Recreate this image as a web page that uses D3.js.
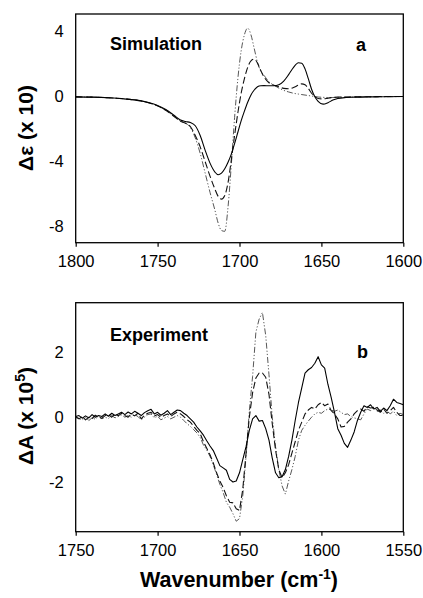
<!DOCTYPE html>
<html>
<head>
<meta charset="utf-8">
<script src="https://cdn.jsdelivr.net/npm/d3@7"></script>
<style>
  html, body { margin: 0; padding: 0; background: #fff; }
  svg { display: block; }
  text { font-family: "Liberation Sans", Arial, sans-serif; fill: #000; }
</style>
</head>
<body>
<svg id="chart" width="423" height="598"></svg>
<script>
// ---------- Panel a: simulation ----------
const simWavenumber = [1800,1790,1780,1770,1760,1755,1750,1745,1740,1736,1733,1730,1727,1724,1721,1718,1715,1713,1711,1709,1707,1705,1703,1701,1699,1697,1695,1693,1691,1689,1687,1685,1682,1679,1676,1673,1670,1667,1664,1662,1660,1658,1656,1654,1652,1649,1646,1643,1640,1635,1630,1620,1610,1600];
const simSolid = [-0.02,-0.04,-0.08,-0.15,-0.27,-0.38,-0.55,-0.8,-1.15,-1.45,-1.54,-1.6,-1.8,-2.4,-3.3,-4.1,-4.65,-4.82,-4.72,-4.45,-4.05,-3.55,-2.9,-2.2,-1.5,-0.9,-0.35,0.1,0.4,0.6,0.66,0.67,0.66,0.66,0.72,0.95,1.35,1.8,2.08,2.05,1.7,1.1,0.45,-0.02,-0.3,-0.47,-0.38,-0.22,-0.12,-0.06,-0.04,-0.02,-0.01,0];
const simDashed = [-0.02,-0.04,-0.08,-0.15,-0.28,-0.4,-0.58,-0.85,-1.22,-1.52,-1.64,-1.85,-2.4,-3.1,-4.0,-4.9,-5.7,-6.15,-6.32,-6.1,-5.3,-3.9,-2.4,-1.0,0.2,1.1,1.8,2.2,2.3,2.05,1.6,1.2,0.85,0.7,0.6,0.5,0.48,0.55,0.7,0.78,0.72,0.5,0.2,0.0,-0.12,-0.15,-0.1,-0.06,-0.04,-0.03,-0.02,-0.01,0,0];
const simDashDot = [-0.02,-0.04,-0.08,-0.15,-0.28,-0.4,-0.58,-0.85,-1.22,-1.52,-1.64,-1.9,-2.55,-3.5,-4.7,-5.9,-7.0,-7.8,-8.25,-8.3,-6.8,-4.2,-1.3,1.1,2.8,3.8,4.21,3.8,2.95,2.1,1.55,1.3,0.9,0.7,0.52,0.38,0.28,0.2,0.15,0.12,0.09,0.06,0.03,0.0,-0.03,-0.05,-0.06,-0.06,-0.05,-0.04,-0.03,-0.02,-0.01,0];
const simXTicks = [1800,1750,1700,1650,1600];
const simYTicks = [-8,-4,0,4];

// ---------- Panel b: experiment ----------
const expWavenumber = [1750,1748,1746,1744,1742,1740,1738,1736,1734,1732,1730,1728,1726,1724,1722,1720,1718,1716,1714,1712,1710,1708,1706,1704,1702,1700,1698,1696,1694,1692,1690,1688,1686,1684,1682,1680,1678,1676,1674,1672,1670,1668,1666,1664,1662,1660,1658,1656,1654,1652,1650,1648,1646,1644,1642,1640,1638,1636,1634,1632,1630,1628,1626,1624,1622,1620,1618,1616,1614,1612,1610,1608,1606,1604,1602,1600,1598,1596,1594,1592,1590,1588,1586,1584,1582,1580,1578,1576,1574,1572,1570,1568,1566,1564,1562,1560,1558,1556,1554,1552,1550];
const expSolid = [0.02,0.05,-0.03,0.04,-0.02,0.08,0.0,0.05,0.02,0.1,0.03,0.12,0.05,0.1,0.15,0.08,0.16,0.1,0.18,0.12,0.05,0.14,0.2,0.24,0.1,0.15,0.06,0.12,0.2,0.08,0.15,0.22,0.2,0.12,0.05,-0.05,-0.15,-0.3,-0.42,-0.55,-0.72,-0.88,-1.02,-1.25,-1.48,-1.55,-1.62,-1.9,-1.98,-1.95,-1.7,-1.3,-0.9,-0.4,-0.05,0.05,-0.12,-0.1,-0.35,-0.7,-1.25,-1.7,-1.85,-1.82,-1.6,-1.2,-0.7,-0.1,0.45,0.9,1.35,1.45,1.52,1.65,1.85,1.6,1.5,1.0,0.6,0.15,-0.35,-0.55,-0.8,-0.92,-0.7,-0.45,-0.1,0.15,0.35,0.3,0.38,0.25,0.3,0.18,0.28,0.2,0.35,0.55,0.45,0.42,0.38];
const expDashed = [0.0,-0.05,0.02,-0.08,0.0,-0.04,0.06,0.0,-0.03,0.05,0.08,0.0,0.1,0.04,0.12,0.05,0.0,0.1,0.04,0.12,-0.05,0.06,0.12,0.15,0.04,0.08,0.0,0.05,0.1,0.02,0.1,0.15,0.1,0.02,-0.08,-0.15,-0.28,-0.4,-0.5,-0.75,-0.95,-1.15,-1.4,-1.7,-1.95,-2.15,-2.4,-2.6,-2.62,-2.8,-2.85,-2.2,-1.1,0.0,0.75,1.2,1.35,1.35,1.22,0.7,-0.2,-1.0,-1.6,-1.85,-1.7,-1.45,-1.1,-0.75,-0.4,-0.15,0.1,0.22,0.3,0.25,0.38,0.45,0.35,0.4,0.2,0.1,-0.05,-0.3,-0.28,-0.15,-0.05,0.1,0.2,0.25,0.18,0.32,0.28,0.3,0.22,0.15,0.25,0.12,0.2,0.3,0.15,0.05,0.05];
const expDashDot = [0.03,-0.04,-0.08,0.0,-0.1,-0.02,-0.06,0.03,-0.05,0.0,-0.04,0.05,-0.02,0.02,0.07,0.0,0.05,0.0,0.08,0.02,-0.08,0.0,0.08,0.1,-0.02,0.03,-0.08,-0.03,0.02,-0.05,0.0,0.05,0.0,-0.1,-0.2,-0.28,-0.38,-0.48,-0.62,-0.85,-1.0,-1.2,-1.45,-1.75,-2.05,-2.3,-2.6,-2.75,-2.95,-3.18,-3.1,-2.4,-1.2,0.2,1.25,2.6,3.0,3.2,2.5,1.3,0.0,-0.9,-1.6,-2.1,-2.35,-1.95,-1.6,-1.2,-0.7,-0.4,-0.25,-0.12,0.0,0.1,0.15,0.12,0.2,0.25,0.22,0.18,0.22,0.15,0.08,0.1,0.02,-0.02,-0.05,-0.08,0.1,0.25,0.2,0.3,0.18,0.22,0.12,0.2,0.1,0.18,0.05,0.12,0.08];
const expXTicks = [1750,1700,1650,1600,1550];
const expYTicks = [-2,0,2];

const svg = d3.select("#chart");

const styles = {
  solid:   { stroke: "#000", width: 1.1, dash: null },
  dashed:  { stroke: "#111", width: 1.1, dash: "7,3" },
  dashdot: { stroke: "#444", width: 0.9, dash: "6,2,1.2,2,1.2,2" }
};

function panel(opts) {
  const { left, right, top, bottom, xDomain, yDomain, xTicks, yTicks, wn, series, curve } = opts;
  const x = d3.scaleLinear().domain(xDomain).range([left, right]);
  const y = d3.scaleLinear().domain(yDomain).range([bottom, top]);
  const g = svg.append("g");

  const line = d3.line()
    .x((d, i) => x(wn[i]))
    .y(d => y(d))
    .curve(curve);

  const clipId = "clip" + Math.round(top);
  svg.append("clipPath").attr("id", clipId)
    .append("rect").attr("x", left).attr("y", top).attr("width", right - left).attr("height", bottom - top);

  const plot = g.append("g").attr("clip-path", `url(#${clipId})`);
  series.forEach(s => {
    const st = styles[s.style];
    plot.append("path")
      .datum(s.values)
      .attr("d", line)
      .attr("fill", "none")
      .attr("stroke", st.stroke)
      .attr("stroke-width", st.width)
      .attr("stroke-dasharray", st.dash)
      .attr("stroke-linejoin", "round");
  });

  g.append("rect")
    .attr("x", left).attr("y", top)
    .attr("width", right - left).attr("height", bottom - top)
    .attr("fill", "none").attr("stroke", "#000").attr("stroke-width", 1.3);

  const xAxis = d3.axisBottom(x).tickValues(xTicks).tickSize(4).tickPadding(9).tickFormat(d3.format("d"));
  const xa = g.append("g").attr("transform", `translate(0,${bottom})`).call(xAxis);
  xa.select(".domain").remove();
  xa.selectAll(".tick line").attr("stroke", "#000").attr("stroke-width", 1.2);
  xa.selectAll(".tick text")
    .attr("font-size", "16.5px")
    .attr("font-family", "Liberation Sans, Arial, sans-serif")
    .attr("fill", "#000");

  const yAxis = d3.axisLeft(y).tickValues(yTicks).tickSize(0).tickPadding(12)
    .tickFormat(d => (d < 0 ? "-" + Math.abs(d) : String(d)));
  const ya = g.append("g").attr("transform", `translate(${left},0)`).call(yAxis);
  ya.select(".domain").remove();
  ya.selectAll(".tick text")
    .attr("font-size", "16.5px")
    .attr("font-family", "Liberation Sans, Arial, sans-serif")
    .attr("fill", "#000");
  return { x, y, g };
}

panel({
  left: 75.7, right: 403.3, top: 14, bottom: 242.7,
  xDomain: [1800, 1600], yDomain: [-9, 5.08],
  xTicks: simXTicks, yTicks: simYTicks, wn: simWavenumber,
  curve: d3.curveMonotoneX,
  series: [
    { style: "dashdot", values: simDashDot },
    { style: "dashed", values: simDashed },
    { style: "solid", values: simSolid }
  ]
});

panel({
  left: 75.7, right: 403.3, top: 302.7, bottom: 531.7,
  xDomain: [1750, 1550], yDomain: [-3.5, 3.5],
  xTicks: expXTicks, yTicks: expYTicks, wn: expWavenumber,
  curve: d3.curveLinear,
  series: [
    { style: "dashdot", values: expDashDot },
    { style: "dashed", values: expDashed },
    { style: "solid", values: expSolid }
  ]
});

svg.append("text").attr("x", 110).attr("y", 50).attr("font-size", "18px").attr("font-weight", "bold").text("Simulation");
svg.append("text").attr("x", 356).attr("y", 51).attr("font-size", "18px").attr("font-weight", "bold").text("a");
svg.append("text").attr("x", 110).attr("y", 341).attr("font-size", "18px").attr("font-weight", "bold").text("Experiment");
svg.append("text").attr("x", 357).attr("y", 358).attr("font-size", "18px").attr("font-weight", "bold").text("b");

svg.append("text")
  .attr("transform", "translate(33,128) rotate(-90)")
  .attr("text-anchor", "middle")
  .attr("font-size", "21px").attr("font-weight", "bold")
  .text("Δε (x 10)");

const yt2 = svg.append("text")
  .attr("transform", "translate(33,416) rotate(-90)")
  .attr("text-anchor", "middle")
  .attr("font-size", "21px").attr("font-weight", "bold");
yt2.append("tspan").text("ΔA (x 10");
yt2.append("tspan").attr("font-size", "14px").attr("dy", "-8").text("5");
yt2.append("tspan").attr("dy", "8").text(")");

const xt = svg.append("text")
  .attr("x", 239).attr("y", 587)
  .attr("text-anchor", "middle")
  .attr("font-size", "21.5px").attr("font-weight", "bold");
xt.append("tspan").text("Wavenumber (cm");
xt.append("tspan").attr("font-size", "14px").attr("dy", "-8").text("-1");
xt.append("tspan").attr("dy", "8").text(")");
</script>
</body>
</html>
